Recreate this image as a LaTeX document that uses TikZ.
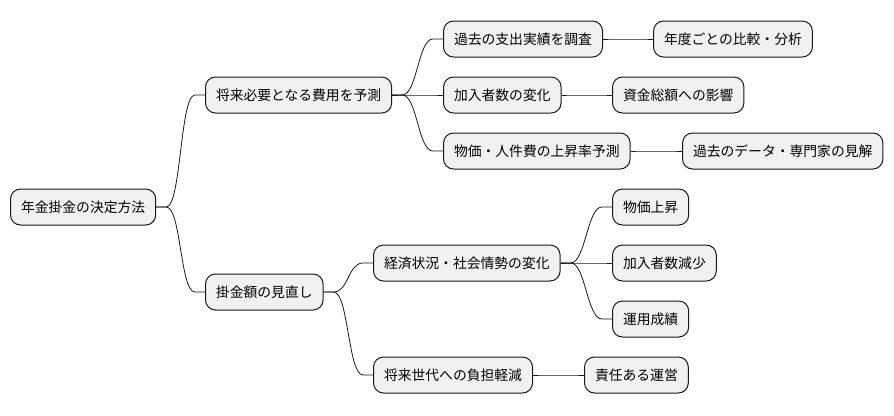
\documentclass[tikz,border=0pt]{standalone}
\usepackage{fontspec}
\setmainfont{Noto Sans CJK JP}
\definecolor{nodeline}{HTML}{181818}
\definecolor{nodefill}{HTML}{F1F1F1}
\tikzset{
  mm/.style={draw=nodeline, fill=nodefill, rounded corners=10pt, line width=1pt,
    minimum height=36pt, inner xsep=10.5pt, inner ysep=0pt, anchor=west,
    font=\fontsize{13.8}{16}\selectfont},
  conn/.style={draw=nodeline, line width=0.8pt,
    to path={-- ++(10pt,0) .. controls +(15pt,0) and +(-15pt,0) .. ([xshift=-10pt]\tikztotarget) -- (\tikztotarget)}}
}
\begin{document}
\begin{tikzpicture}[x=1pt,y=-1pt]
\useasboundingbox (0,0) rectangle (894,415);
\node[mm] (root) at (10,207) {年金掛金の決定方法};
\node[mm] (a) at (205,95) {将来必要となる費用を予測};
\node[mm] (b) at (205,292) {掛金額の見直し};
\node[mm] (a1) at (443,39) {過去の支出実績を調査};
\node[mm] (a2) at (443,95) {加入者数の変化};
\node[mm] (a3) at (443,151) {物価・人件費の上昇率予測};
\node[mm] (a1x) at (653,39) {年度ごとの比較・分析};
\node[mm] (a2x) at (612,95) {資金総額への影響};
\node[mm] (a3x) at (682,151) {過去のデータ・専門家の見解};
\node[mm] (b1) at (373,263) {経済状況・社会情勢の変化};
\node[mm] (b2) at (373,375) {将来世代への負担軽減};
\node[mm] (b11) at (612,207) {物価上昇};
\node[mm] (b12) at (612,263) {加入者数減少};
\node[mm] (b13) at (612,319) {運用成績};
\node[mm] (b2x) at (584,375) {責任ある運営};
\draw[conn] (root.east) to (a.west);
\draw[conn] (root.east) to (b.west);
\draw[conn] (a.east) to (a1.west);
\draw[conn] (a.east) to (a2.west);
\draw[conn] (a.east) to (a3.west);
\draw[conn] (a1.east) to (a1x.west);
\draw[conn] (a2.east) to (a2x.west);
\draw[conn] (a3.east) to (a3x.west);
\draw[conn] (b.east) to (b1.west);
\draw[conn] (b.east) to (b2.west);
\draw[conn] (b1.east) to (b11.west);
\draw[conn] (b1.east) to (b12.west);
\draw[conn] (b1.east) to (b13.west);
\draw[conn] (b2.east) to (b2x.west);
\end{tikzpicture}
\end{document}
